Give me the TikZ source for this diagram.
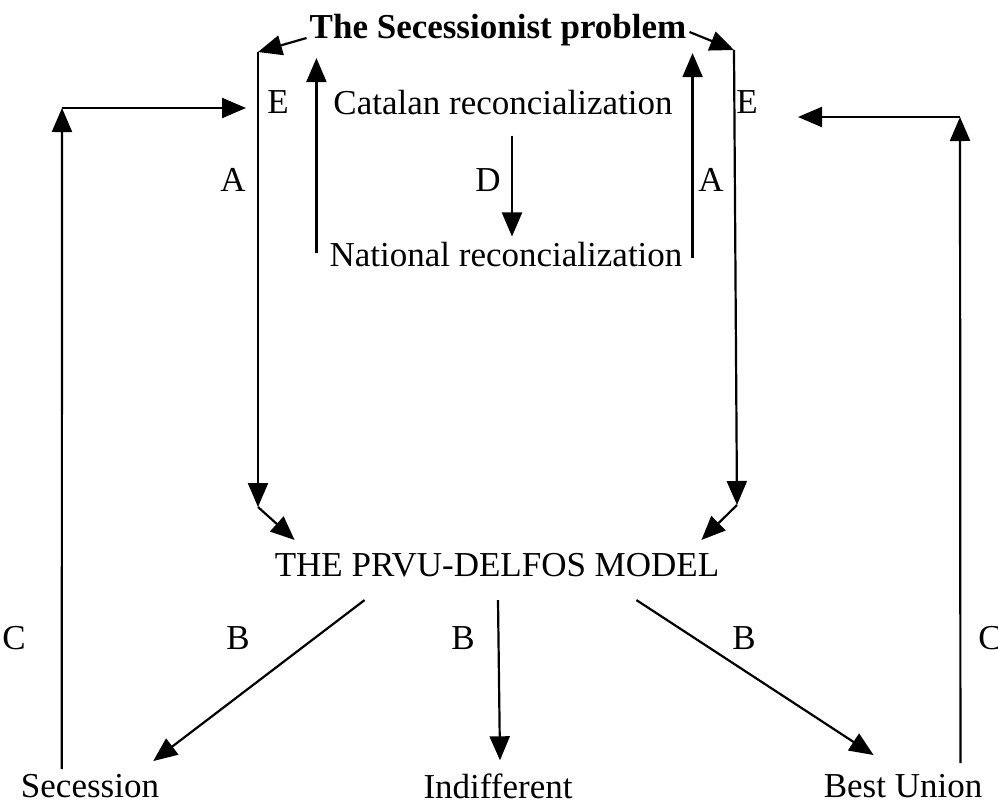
\documentclass[tikz,border=0pt]{standalone}
\usepackage{fontspec}
\setmainfont{Liberation Serif}
\usetikzlibrary{arrows.meta,positioning}
\tikzset{
    lbl/.style={font=\fontsize{35}{40}\selectfont, inner sep=0pt},
    arr/.style={line width=2.2pt, -{Triangle[length=24pt,width=20pt]}}
}
\begin{document}
\begin{tikzpicture}[x=1pt,y=-1pt]
        \useasboundingbox (0,0) rectangle (998,806);
        % texts
        \node[lbl, font=\fontsize{35}{40}\selectfont\bfseries] (problem) at (498,30) { The Secessionist problem };
        \node[lbl] (catalan) at (503,103) { Catalan reconcialization };
        \node[lbl] (national) at (506,255) { National reconcialization };
        \node[lbl] (model) at (497,565) { THE PRVU-DELFOS MODEL };
        \node[lbl] (secession) at (90,786) { Secession };
        \node[lbl] (indifferent) at (498,786) { Indifferent };
        \node[lbl] (bestunion) at (903,786) { Best Union };
        % letters
        \node[lbl] (eleft) at (278,102) { E };
        \node[lbl] (aleft) at (233,180) { A };
        \node[lbl] (eright) at (747,102) { E };
        \node[lbl] (aright) at (711,180) { A };
        \node[lbl] (dmid) at (488,180) { D };
        \node[lbl] (cleft) at (14,638) { C };
        \node[lbl] (cright) at (990,638) { C };
        \node[lbl] (bleft) at (238,638) { B };
        \node[lbl] (bmid) at (463,638) { B };
        \node[lbl] (bright) at (744,638) { B };
        % corners
        \coordinate (lefttop) at (258,52);
        \coordinate (leftbot) at (258,507);
        \coordinate (righttop) at (734,50);
        \coordinate (rightbot) at (737,505);
        \coordinate (loopleft) at (62,108);
        \coordinate (loopright) at (960,117);
        \coordinate (endleft) at (246,108);
        \coordinate (endright) at (798,117);
        % outer A arrows
        \draw[arr] ([xshift=-3pt,yshift=-8pt]problem.west) -- (lefttop);
        \draw[arr] (lefttop) -- (leftbot);
        \draw[arr] (leftbot) -- ([xshift=20pt,yshift=13pt]model.north west);
        \draw[arr] ([xshift=3pt,yshift=-2pt]problem.east) -- (righttop);
        \draw[arr] (righttop) -- (rightbot);
        \draw[arr] (rightbot) -- ([xshift=-18pt,yshift=13pt]model.north east);
        % inner arrows
        \draw[arr] ([xshift=-13pt,yshift=2pt]national.west) coordinate (innerleft)
            -- ([yshift=-12pt]innerleft |- problem.south);
        \draw[arr] ([xshift=10pt,yshift=-3pt]national.east) coordinate (innerright)
            -- ([yshift=-7pt]innerright |- problem.south);
        \draw[arr] ([xshift=9pt,yshift=-20pt]catalan.south) -- ([xshift=6pt,yshift=6pt]national.north);
        % B arrows
        \draw[arr] ([xshift=90pt,yshift=-23pt]model.south west) -- ([xshift=-6pt,yshift=13pt]secession.north east);
        \draw[arr] ([xshift=1pt,yshift=-23pt]model.south) -- ([xshift=2pt,yshift=13pt]indifferent.north);
        \draw[arr] ([xshift=-83pt,yshift=-23pt]model.south east) -- ([xshift=50pt,yshift=19pt]bestunion.north west);
        % C loops
        \draw[arr] ([xshift=41pt,yshift=5pt]secession.north west) -- (loopleft);
        \draw[arr] (loopleft) -- (endleft);
        \draw[arr] ([xshift=-22pt,yshift=11pt]bestunion.north east) -- (loopright);
        \draw[arr] (loopright) -- (endright);
    \end{tikzpicture}
\end{document}
